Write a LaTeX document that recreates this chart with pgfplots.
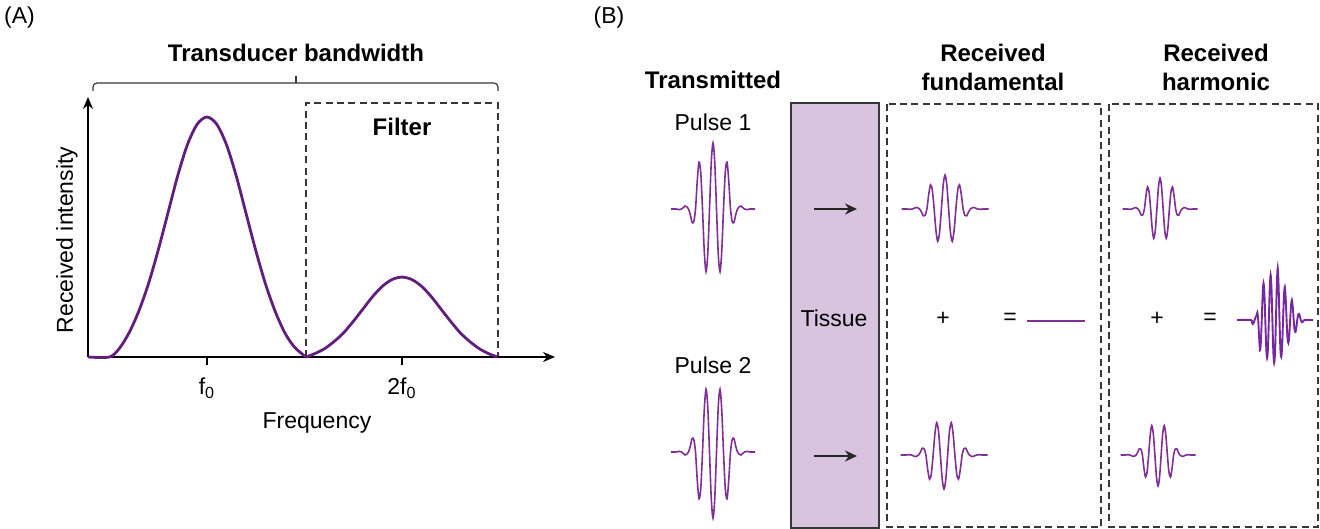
\documentclass[border=0pt]{standalone}
\usepackage{pgfplots}
\pgfplotsset{compat=1.18}
\usepackage{pgfplotstable}
\usepackage{fontspec}
\setmainfont{Liberation Sans}
\usetikzlibrary{arrows.meta}

\definecolor{curveA}{RGB}{98,30,126}
\definecolor{wave}{RGB}{128,48,148}
\definecolor{wavesum}{RGB}{118,40,160}
\definecolor{tissue}{RGB}{216,196,223}
\definecolor{edge}{RGB}{55,55,55}

\newcommand{\lab}{\fontsize{11.5}{14.5}\selectfont}
\newcommand{\tit}{\fontsize{12}{14.5}\selectfont\bfseries}

% Panel A: fundamental and harmonic spectra (x in units of f0)
\pgfplotstableread{
x y
0.39 0
0.50 0
0.55 0.035
0.60 0.10
0.65 0.19
0.70 0.305
0.75 0.445
0.80 0.60
0.85 0.755
0.90 0.885
0.95 0.97
1.00 1.00
1.05 0.97
1.10 0.885
1.15 0.755
1.20 0.60
1.25 0.445
1.30 0.305
1.35 0.19
1.40 0.10
1.45 0.04
1.508 0
}\peakone

\pgfplotstableread{
x y
1.508 0
1.55 0.013
1.60 0.033
1.65 0.063
1.70 0.10
1.75 0.148
1.80 0.20
1.85 0.252
1.90 0.295
1.95 0.323
2.00 0.333
2.05 0.323
2.10 0.295
2.15 0.252
2.20 0.20
2.25 0.148
2.30 0.10
2.35 0.063
2.40 0.033
2.45 0.012
2.49 0
}\peaktwo

% Panel B: normalised pulse (t in periods, y in units of peak amplitude)
\pgfplotstableread{
t y
-3 0
-2.625 0
-2.5 -0.008
-2.375 -0.008
-2.25 0
-2.125 0.021
-2 0.045
-1.875 0.035
-1.75 0
-1.625 -0.085
-1.5 -0.2
-1.375 -0.191
-1.25 0
-1.125 0.424
-1 0.71
-0.875 0.552
-0.75 0
-0.625 -0.636
-0.5 -0.95
-0.375 -0.682
-0.25 0
-0.125 0.704
0 1
0.125 0.704
0.25 0
0.375 -0.682
0.5 -0.95
0.625 -0.636
0.75 0
0.875 0.552
1 0.71
1.125 0.424
1.25 0
1.375 -0.191
1.5 -0.2
1.625 -0.085
1.75 0
1.875 0.035
2 0.045
2.125 0.021
2.25 0
2.375 -0.008
2.5 -0.008
2.625 0
3 0
}\pulse

% Panel B: summed harmonic pulse (t in periods of 7.1 px, amplitude in px, up positive)
\pgfplotstableread{
t a
-5.75 0
-3.75 0
-3.625 -2.8
-3.5 -4
-3.375 -2.8
-3.25 0
-3.125 2.8
-3 4
-2.875 7.4
-2.75 0
-2.625 -16.6
-2.5 -30
-2.375 -22.4
-2.25 0
-2.125 24.9
-2 37
-1.875 26.3
-1.75 0
-1.625 -26.7
-1.5 -38
-1.375 -28.1
-1.25 0
-1.125 30.6
-1 45
-0.875 31.5
-0.75 0
-0.625 -30.8
-0.5 -43
-0.375 -32.0
-0.25 0
-0.125 35.2
0 52
0.125 34.1
0.25 0
0.375 -28.8
0.5 -37
0.625 -25.5
0.75 0
0.875 24.0
1 33
1.125 21.6
1.25 0
1.375 -18.0
1.5 -23
1.625 -15.7
1.75 0
1.875 14.7
2 20
2.125 12.7
2.25 0
2.375 -9.9
2.5 -12
2.625 -7.4
2.75 0
2.875 5.3
3 6
3.125 3.5
3.25 0
3.375 -2.1
3.5 -2
3.625 -1
3.75 0
5 0
}\harmsum

\begin{document}
\begin{tikzpicture}
\useasboundingbox (0,0) rectangle (660pt,264.5pt);
% ---------- Panel B (and annotations), pixel coordinates ----------
\begin{axis}[at={(0pt,0pt)}, anchor=south west, scale only axis,
  width=660pt, height=264.5pt, xmin=0, xmax=1320, ymin=0, ymax=529,
  y dir=reverse, hide axis, clip=false]
  % panel letters
  \node[font=\lab] at (19.5,18) {(A)};
  \node[font=\lab] at (609,18) {(B)};
  % panel A annotations
  \node[font=\tit] at (296,53) {Transducer bandwidth};
  \draw[edge, line width=0.6pt, rounded corners=2pt] (93,91) -- (93,83) -- (498,83) -- (498,91);
  \draw[edge, line width=0.6pt] (296,83) -- (296,76);
  \draw[edge, line width=0.75pt, dash pattern=on 3.5pt off 2.2pt] (306,357) -- (306,103) -- (498,103) -- (498,357);
  \node[font=\tit] at (402,127) {Filter};
  \node[font=\lab] at (317,423) {Frequency};
  \node[font=\lab, rotate=90] at (67,240) {Received intensity};
  % panel B headers
  \node[font=\tit] at (713,80) {Transmitted};
  \node[font=\tit, align=center] at (993,67) {Received\\fundamental};
  \node[font=\tit, align=center] at (1216,67) {Received\\harmonic};
  \node[font=\lab] at (713,122) {Pulse 1};
  \node[font=\lab] at (713,365) {Pulse 2};
  % tissue block
  \draw[edge, line width=0.75pt, fill=tissue] (791,103) rectangle (879,528);
  \node[font=\lab] at (834,318) {Tissue};
  \draw[-{Stealth[length=6pt,width=5.5pt]}, line width=1.1pt, black!85] (814,209) -- (857,209);
  \draw[-{Stealth[length=6pt,width=5.5pt]}, line width=1.1pt, black!85] (814,456) -- (857,456);
  % dashed boxes
  \draw[edge, line width=0.75pt, dash pattern=on 3.5pt off 2.2pt] (887,104) rectangle (1101,527);
  \draw[edge, line width=0.75pt, dash pattern=on 3.5pt off 2.2pt] (1109,104) rectangle (1318,527);
  % operators
  \node[font=\lab] at (943,319) {+};
  \node[font=\lab] at (1010,319) {=};
  \node[font=\lab] at (1157,319) {+};
  \node[font=\lab] at (1210,319) {=};
  % pulses
  \addplot[wave, line width=0.8pt, smooth] table[x expr=713+14*\thisrow{t}, y expr=209-66*\thisrow{y}] {\pulse};
  \addplot[wave, line width=0.8pt, smooth] table[x expr=713+14*\thisrow{t}, y expr=452+66*\thisrow{y}] {\pulse};
  \addplot[wave, line width=0.8pt, smooth] table[x expr=945+14.5*\thisrow{t}, y expr=209-34*\thisrow{y}] {\pulse};
  \addplot[wave, line width=0.8pt, smooth] table[x expr=944+14.5*\thisrow{t}, y expr=455+34*\thisrow{y}] {\pulse};
  \addplot[wave, line width=0.8pt, smooth] table[x expr=1160+12.5*\thisrow{t}, y expr=209-31*\thisrow{y}] {\pulse};
  \addplot[wave, line width=0.8pt, smooth] table[x expr=1158+12.5*\thisrow{t}, y expr=455+31*\thisrow{y}] {\pulse};
  \addplot[wave, line width=0.8pt] coordinates {(1027,321) (1085,321)};
  \addplot[wavesum, line width=0.95pt, smooth] table[x expr=1277.7+7.1*\thisrow{t}, y expr=320-\thisrow{a}] {\harmsum};
\end{axis}
% ---------- Panel A axis ----------
\begin{axis}[at={(44pt,86pt)}, anchor=south west, scale only axis,
  width=233.5pt, height=130pt,
  xmin=0.39, xmax=2.785, ymin=0, ymax=1.0833,
  axis lines=left,
  axis line style={line width=0.75pt, black, -{Stealth[length=6pt,width=5pt]}},
  xtick={1,2}, xticklabels={f\textsubscript{0}, 2f\textsubscript{0}},
  ytick=\empty,
  tick align=outside, major tick length=4pt,
  tick style={line width=0.75pt, black},
  xticklabel style={font=\lab, yshift=-3pt},
  clip=false]
  \addplot[curveA, line width=1.4pt, smooth] table[x=x, y=y] {\peakone};
  \addplot[curveA, line width=1.4pt, smooth] table[x=x, y=y] {\peaktwo};
\end{axis}
\end{tikzpicture}
\end{document}
